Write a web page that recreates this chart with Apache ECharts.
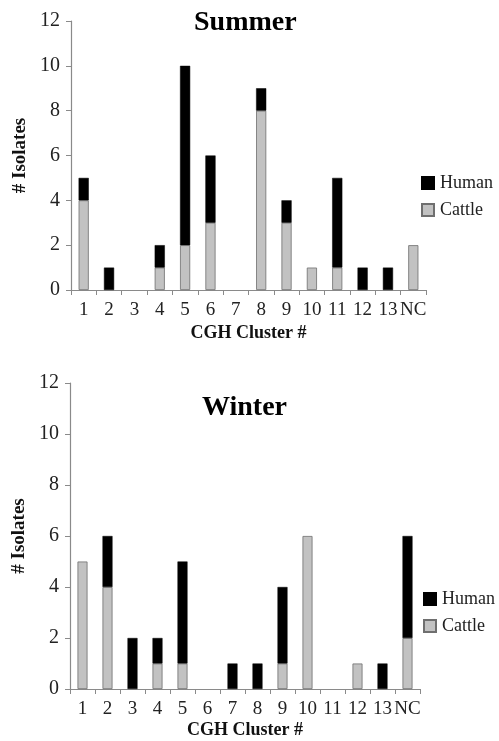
<!DOCTYPE html>
<html><head><meta charset="utf-8">
<script src="https://cdn.jsdelivr.net/npm/echarts@6/dist/echarts.min.js"></script>
<style>html,body{margin:0;padding:0;background:#fff}#c{width:499px;height:741px}</style>
</head><body><div id="c"></div>
<script>
const categories = ['1','2','3','4','5','6','7','8','9','10','11','12','13','NC'];
const summerCattle = [4,0,0,1,2,3,0,8,3,1,1,0,0,2];
const summerHuman  = [1,1,0,1,8,3,0,1,1,0,4,1,1,0];
const winterCattle = [5,4,0,1,1,0,0,0,1,6,0,1,0,2];
const winterHuman  = [0,2,2,1,4,0,1,1,3,0,0,0,1,4];
const yTicks = [0,2,4,6,8,10,12];

const font = 'Liberation Serif, Times New Roman, serif';
const axisColor = '#8a8a8a';
const cattleStyle = {color:'#c2c2c2', borderColor:'#6f6f6f', borderWidth:0.8};
const humanStyle = {color:'#000', borderColor:'#000', borderWidth:0.5};
const nz = arr => arr.map(v => v === 0 ? null : v);

function xAx(gi, gap){
  return {type:'category', gridIndex:gi, data:categories,
    axisLine:{lineStyle:{color:axisColor,width:1.2}},
    axisTick:{show:true, alignWithLabel:false, length:5, lineStyle:{color:axisColor}},
    axisLabel:{interval:0, color:'#222', fontFamily:font, fontSize:19, margin:11},
    name:'CGH Cluster #', nameLocation:'middle', nameGap:gap,
    nameTextStyle:{fontFamily:font, fontWeight:'bold', fontSize:18, color:'#111'}};
}
function yAx(gi){
  return {type:'value', gridIndex:gi, min:yTicks[0], max:yTicks[yTicks.length-1], interval:2,
    splitLine:{show:false},
    axisLine:{show:true, lineStyle:{color:axisColor,width:1.2}},
    axisTick:{show:true, length:5, lineStyle:{color:axisColor}},
    axisLabel:{color:'#222', fontFamily:font, fontSize:20, margin:11},
    name:'# Isolates', nameLocation:'middle', nameGap:41, nameRotate:90,
    nameTextStyle:{fontFamily:font, fontWeight:'bold', fontSize:19, color:'#111'}};
}
function legend(top, left){
  return {orient:'vertical', left:left, top:top, itemWidth:12, itemHeight:12, itemGap:9,
    icon:'rect', data:['Human','Cattle'],
    textStyle:{fontFamily:font, fontSize:18, color:'#222', padding:[0,0,0,1]}};
}
const chart = echarts.init(document.getElementById('c'));
chart.setOption({
  animation:false,
  title:[
    {text:'Summer', left:189, top:4, textStyle:{fontFamily:font, fontWeight:'bold', fontSize:28, color:'#000'}},
    {text:'Winter', left:197, top:389, textStyle:{fontFamily:font, fontWeight:'bold', fontSize:28, color:'#000'}}
  ],
  legend:[legend(169, 416), legend(585, 418)],
  grid:[
    {left:71, top:21, width:355, height:269, outerBoundsMode:'none', containLabel:false},
    {left:70, top:383, width:350, height:306, outerBoundsMode:'none', containLabel:false}
  ],
  xAxis:[xAx(0, 34), xAx(1, 32)],
  yAxis:[yAx(0), yAx(1)],
  series:[
    {name:'Cattle', type:'bar', stack:'s', xAxisIndex:0, yAxisIndex:0, data:nz(summerCattle), barWidth:'40%', itemStyle:cattleStyle},
    {name:'Human', type:'bar', stack:'s', xAxisIndex:0, yAxisIndex:0, data:nz(summerHuman), barWidth:'40%', itemStyle:humanStyle},
    {name:'Cattle', type:'bar', stack:'w', xAxisIndex:1, yAxisIndex:1, data:nz(winterCattle), barWidth:'40%', itemStyle:cattleStyle},
    {name:'Human', type:'bar', stack:'w', xAxisIndex:1, yAxisIndex:1, data:nz(winterHuman), barWidth:'40%', itemStyle:humanStyle}
  ]
});
</script></body></html>
